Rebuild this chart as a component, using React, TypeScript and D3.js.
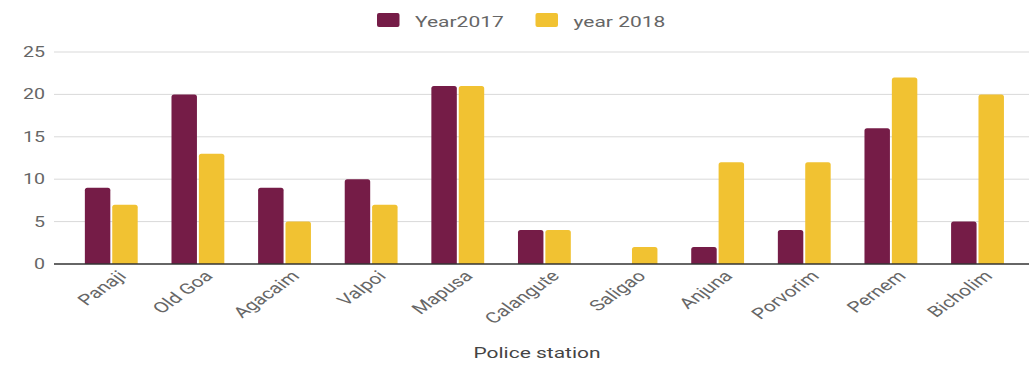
import React from "react";
import * as d3 from "d3";

const categories = ["Panaji","Old Goa","Agacaim","Valpoi","Mapusa","Calangute","Saligao","Anjuna","Porvorim","Pernem","Bicholim"];
const year2017 = [9,20,9,10,21,4,0,2,4,16,5];
const year2018 = [7,13,5,7,21,4,2,12,12,22,20];
const seriesNames = ["Year2017","year 2018"];
const yTicks = [0,5,10,15,20,25];
const colors = ["#751c47","#f1c232"];

const W = 1029, H = 365;
const SX = 1.4;
const FONT = "Roboto, 'Noto Sans', sans-serif";

function topRounded(x: number, y: number, w: number, h: number, r: number) {
  if (h <= 0) return "";
  const rr = Math.min(r, h, w / 2);
  return `M${x},${y + h}V${y + rr}Q${x},${y} ${x + rr},${y}H${x + w - rr}Q${x + w},${y} ${x + w},${y + rr}V${y + h}Z`;
}

export default function App() {
  const gridX0 = 54, gridX1 = 1029;
  const y = d3.scaleLinear().domain([0, 25]).range([264, 52]);
  const x0 = d3.scaleBand<string>().domain(categories).range([76.2, 1012.6]).paddingInner(0.39).paddingOuter(0.1);
  const x1 = d3.scaleBand<string>().domain(seriesNames).range([0, x0.bandwidth()]).paddingInner(0.07);
  const data = [year2017, year2018];

  return (
    <svg width={W} height={H} style={{ position: "absolute", left: 0, top: 0 }} fontFamily={FONT}>
      {seriesNames.map((s, i) => {
        const lx = i === 0 ? 377 : 535.5;
        return (
          <g key={s}>
            <rect x={lx} y={13} width={22.5} height={14} rx={2} fill={colors[i]} />
            <text transform={`translate(${lx + 38},${26.5}) scale(${SX},1)`} fontSize={15} fill="#666">{s}</text>
          </g>
        );
      })}
      {yTicks.map((t) => (
        <g key={t}>
          {t !== 0 && <line x1={gridX0} x2={gridX1} y1={y(t)} y2={y(t)} stroke="#d9d9d9" strokeWidth={1} />}
          <text transform={`translate(45,${y(t) + 5}) scale(${SX},1)`} textAnchor="end" fontSize={14} fill="#666">{t}</text>
        </g>
      ))}
      {categories.map((c, ci) => (
        <g key={c}>
          {seriesNames.map((s, si) => {
            const v = data[si][ci];
            const bx = (x0(c) as number) + (x1(s) as number);
            const by = y(v);
            return <path key={s} d={topRounded(bx, by, x1.bandwidth(), y(0) - by, 2.5)} fill={colors[si]} />;
          })}
        </g>
      ))}
      <line x1={gridX0} x2={gridX1} y1={y(0)} y2={y(0)} stroke="#333" strokeWidth={1.5} />
      {categories.map((c) => {
        const cx = (x0(c) as number) + x0.bandwidth() / 2;
        return (
          <text key={c} transform={`translate(${cx + 16},${277}) scale(${SX},1) rotate(-45)`} textAnchor="end" fontSize={15} fill="#666">{c}</text>
        );
      })}
      <text transform={`translate(537,358) scale(${SX},1)`} textAnchor="middle" fontSize={15} fill="#444">Police station</text>
    </svg>
  );
}
